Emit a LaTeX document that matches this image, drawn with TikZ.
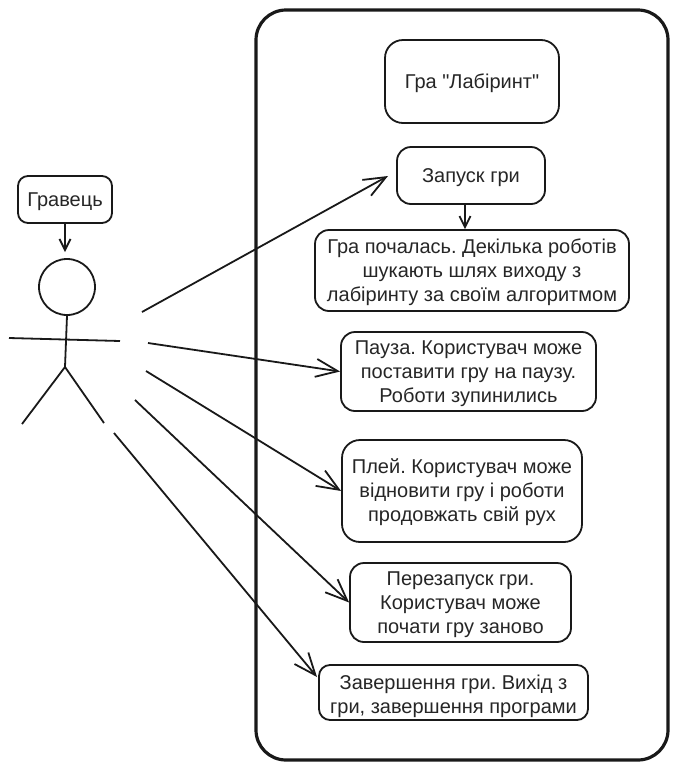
\documentclass[tikz,border=0pt]{standalone}
\usepackage{fontspec}
\setmainfont[Ligatures=TeXOff]{Liberation Sans}
\usetikzlibrary{arrows.meta}
\begin{document}
\frenchspacing
\begin{tikzpicture}[
        x=1pt, y=-1pt,
        font=\fontsize{20}{24}\selectfont,
        usecase/.style={
            rectangle, draw=black!90, line width=1.8pt,
            fill=white, rounded corners=14pt,
            text=black!85, text height=18pt, text depth=5pt,
            inner sep=0pt, align=center
        },
        twolines/.style={usecase, text height=46pt},
        threelines/.style={usecase, text height=66pt},
        frame/.style={
            rectangle, draw=black!90, line width=3.2pt,
            rounded corners=30pt, inner sep=0pt
        },
        body/.style={draw=black!90, line width=1.8pt},
        arr/.style={-{Straight Barb[length=22pt,width=18pt]}, draw=black!90, line width=1.8pt},
        shortarr/.style={-{Straight Barb[length=11pt,width=11pt]}, draw=black!90, line width=1.8pt}
    ]
    \useasboundingbox (0, 0) rectangle (678, 769);

    % System frame
    \node[frame, minimum width=412pt, minimum height=750pt] (system) at (462, 385) {};

    % Use cases
    \node[usecase, minimum width=174pt, minimum height=83pt, rounded corners=18pt] (title) at (472, 81.5) {Гра "Лабіринт"};
    \node[usecase, minimum width=148pt, minimum height=57pt] (launch) at (471, 175.5) {Запуск гри};
    \node[threelines, minimum width=314pt, minimum height=81pt] (started) at (472, 270.5)
        {Гра почалась. Декілька роботів\\шукають шлях виходу з\\лабіринту за своїм алгоритмом};
    \node[threelines, minimum width=255pt, minimum height=79pt] (pause) at (468.5, 371.5)
        {Пауза. Користувач може\\поставити гру на паузу.\\Роботи зупинились};
    \node[threelines, minimum width=240pt, minimum height=102pt, rounded corners=18pt] (play) at (462, 491)
        {Плей. Користувач може\\відновити гру і роботи\\продовжать свій рух};
    \node[threelines, minimum width=221pt, minimum height=79pt] (restart) at (460.5, 602.5)
        {Перезапуск гри.\\Користувач може\\почати гру заново};
    \node[twolines, minimum width=269pt, minimum height=55pt, rounded corners=11pt] (finish) at (453.5, 692.5)
        {Завершення гри. Вихід з\\гри, завершення програми};

    % Player label
    \node[usecase, minimum width=94pt, minimum height=47pt, rounded corners=10pt] (player) at (65, 199.5) {Гравець};

    % Stick figure
    \node[circle, body, minimum size=56pt, inner sep=0pt] (head) at (67, 287) {};
    \coordinate (hip) at (65, 367);
    \draw[body] (head.south) -- (hip);
    \draw[body] (9, 338) -- (120, 341);
    \draw[body] (22, 424) -- (hip) -- (104, 423);

    % Free ends of the arrows beside the figure
    \coordinate (headtop) at (65, 252);
    \coordinate (a1) at (142, 312);
    \coordinate (a2) at (148, 343);
    \coordinate (a3) at (146, 371);
    \coordinate (a4) at (135, 400);
    \coordinate (a5) at (114, 433);
    \coordinate (launchend) at (388, 176);
    \coordinate (finishend) at (317, 677);

    % Arrows
    \draw[shortarr] (player.south) -- (headtop);
    \draw[shortarr] ([xshift=-6pt]launch.south) -- ([xshift=-7pt]started.north);
    \draw[arr] (a1) -- (launchend);
    \draw[arr] (a2) -- (pause.west);
    \draw[arr] (a3) -- (play.west);
    \draw[arr] (a4) -- (restart.west);
    \draw[arr] (a5) -- (finishend);

    \end{tikzpicture}
\end{document}
